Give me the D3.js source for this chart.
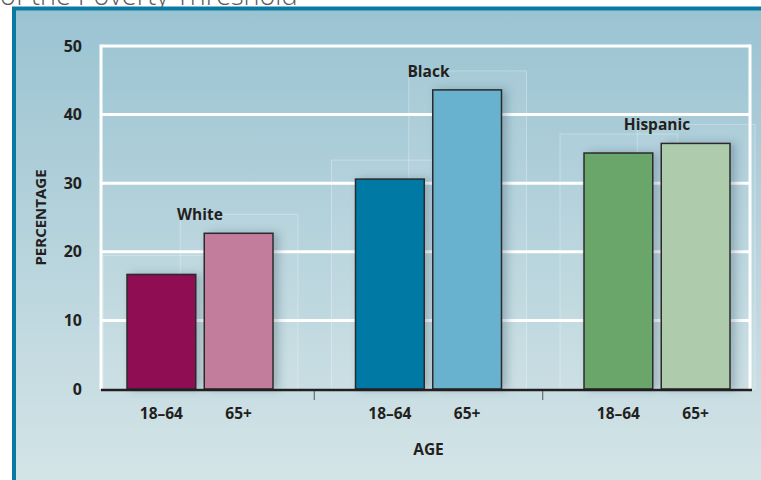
<!DOCTYPE html>
<html>
<head>
<meta charset="utf-8">
<script src="https://cdn.jsdelivr.net/npm/d3@7"></script>
<style>
  html, body { margin: 0; padding: 0; background: #fff; overflow: hidden; }
  svg { display: block; font-family: "Open Sans", "DejaVu Sans", sans-serif; }
</style>
</head>
<body>
<div id="chart"></div>
<script>
// Poverty chart data
const groups = ['White', 'Black', 'Hispanic'];
const ages = ['18–64', '65+'];
const values18to64 = [16.7, 30.6, 34.4];
const values65plus = [22.7, 43.6, 35.8];
const yTicks = [0, 10, 20, 30, 40, 50];
const barColors = {
    White: ['#8e0c52', '#c27b9c'],
    Black: ['#0079a5', '#67b1cf'],
    Hispanic: ['#6aa66b', '#aecbab']
};

const W = 761, H = 480;
const svg = d3.select('#chart').append('svg')
    .attr('width', W)
    .attr('height', H);

const defs = svg.append('defs');
const grad = defs.append('linearGradient')
    .attr('id', 'bg').attr('x1', 0).attr('y1', 0).attr('x2', 0).attr('y2', 1);
grad.append('stop').attr('offset', '0%').attr('stop-color', '#9ac3d2');
grad.append('stop').attr('offset', '100%').attr('stop-color', '#d7e6e8');

const shadow = defs.append('filter').attr('id', 'shadow')
    .attr('x', '-20%').attr('y', '-10%').attr('width', '160%').attr('height', '120%');
shadow.append('feDropShadow')
    .attr('dx', 5).attr('dy', 0).attr('stdDeviation', 4)
    .attr('flood-color', '#2a4a5a').attr('flood-opacity', 0.3);

// title remnant, cut by the top edge as in the source
svg.append('text')
    .attr('x', 0).attr('y', 5)
    .attr('font-size', 27).attr('font-weight', 300)
    .attr('fill', '#5a5a5a')
    .text('of the Poverty Threshold');

// panel
svg.append('rect')
    .attr('x', 14).attr('y', 8.5)
    .attr('width', W + 20).attr('height', H + 20)
    .attr('fill', 'url(#bg)')
    .attr('stroke', '#0a7aa4').attr('stroke-width', 4);

const margin = { top: 46, right: 11, bottom: 91, left: 101 };
const plotW = W - margin.left - margin.right;
const plotH = H - margin.top - margin.bottom;
const g = svg.append('g').attr('transform', `translate(${margin.left},${margin.top})`);

const y = d3.scaleLinear().domain([0, 50]).range([plotH, 0]);
const x = d3.scalePoint().domain(groups).range([99, 556]);
const xAge = d3.scaleBand().domain(ages).range([-73, 73]).paddingInner(0.11);

const labelFont = 15.5;

// gridlines
g.selectAll('.grid')
    .data(yTicks.filter(d => d > 0))
    .enter().append('line')
    .attr('x1', 0).attr('x2', plotW)
    .attr('y1', d => y(d)).attr('y2', d => y(d))
    .attr('stroke', '#fff').attr('stroke-width', 3);

g.append('line')
    .attr('x1', 0).attr('x2', 0).attr('y1', y(50) - 1.5).attr('y2', plotH)
    .attr('stroke', '#fff').attr('stroke-width', 3);
g.append('line')
    .attr('x1', plotW).attr('x2', plotW).attr('y1', y(50) - 1.5).attr('y2', plotH)
    .attr('stroke', '#fff').attr('stroke-width', 3);

// y axis labels
const yAxis = g.append('g')
    .call(d3.axisLeft(y).tickValues(yTicks).tickSize(0).tickPadding(19));
yAxis.select('.domain').remove();
yAxis.selectAll('text')
    .attr('font-size', 16).attr('font-weight', 700)
    .attr('fill', '#231f20')
    .attr('font-family', '"Open Sans", sans-serif');

const rows = groups.map((grp, i) => ({
    group: grp,
    bars: [
        { group: grp, age: ages[0], value: values18to64[i], color: barColors[grp][0] },
        { group: grp, age: ages[1], value: values65plus[i], color: barColors[grp][1] }
    ]
}));

const grpG = g.selectAll('.grp')
    .data(rows)
    .enter().append('g')
    .attr('class', 'grp')
    .attr('transform', d => `translate(${x(d.group)},0)`);

// faint 3D guide boxes
grpG.selectAll('.ghost')
    .data(d => d.bars)
    .enter().append('rect')
    .attr('x', d => xAge(d.age) - 24)
    .attr('y', d => y(d.value) - 19)
    .attr('width', xAge.bandwidth() + 49)
    .attr('height', d => plotH - y(d.value) + 19)
    .attr('fill', 'rgba(255,255,255,0.06)')
    .attr('stroke', 'rgba(255,255,255,0.3)')
    .attr('stroke-width', 1);

grpG.selectAll('.bar')
    .data(d => d.bars)
    .enter().append('rect')
    .attr('class', 'bar')
    .attr('x', d => xAge(d.age))
    .attr('y', d => y(d.value))
    .attr('width', xAge.bandwidth())
    .attr('height', d => plotH - y(d.value))
    .attr('fill', d => d.color)
    .attr('stroke', '#2b2b2b').attr('stroke-width', 1.5)
    .attr('filter', 'url(#shadow)');

grpG.append('text')
    .attr('x', 0)
    .attr('y', d => y(d3.max(d.bars, b => b.value)) - 13)
    .attr('text-anchor', 'middle')
    .attr('font-size', labelFont).attr('font-weight', 700)
    .attr('fill', '#231f20')
    .text(d => d.group);

// x tick labels
grpG.selectAll('.age')
    .data(d => d.bars)
    .enter().append('text')
    .attr('x', d => xAge(d.age) + xAge.bandwidth() / 2)
    .attr('y', plotH + 30)
    .attr('text-anchor', 'middle')
    .attr('font-size', labelFont).attr('font-weight', 700)
    .attr('fill', '#231f20')
    .text(d => d.age);

// baseline
g.append('line')
    .attr('x1', 0).attr('x2', plotW + 2)
    .attr('y1', plotH + 1).attr('y2', plotH + 1)
    .attr('stroke', '#231f20').attr('stroke-width', 2.5);

// group separators
const seps = groups.slice(1).map((grp, i) => (x(groups[i]) + x(grp)) / 2);
g.selectAll('.sep')
    .data(seps)
    .enter().append('line')
    .attr('x1', d => d).attr('x2', d => d)
    .attr('y1', plotH + 2).attr('y2', plotH + 11)
    .attr('stroke', '#555').attr('stroke-width', 1);

// axis titles
g.append('text')
    .attr('x', x('Black'))
    .attr('y', plotH + 66)
    .attr('text-anchor', 'middle')
    .attr('font-size', labelFont).attr('font-weight', 700)
    .attr('fill', '#231f20')
    .text('AGE');

g.append('text')
    .attr('transform', 'rotate(-90)')
    .attr('x', -(y(25)))
    .attr('y', -55)
    .attr('text-anchor', 'middle')
    .attr('font-size', 15).attr('font-weight', 700)
    .attr('fill', '#231f20')
    .text('PERCENTAGE');
</script>
</body>
</html>
